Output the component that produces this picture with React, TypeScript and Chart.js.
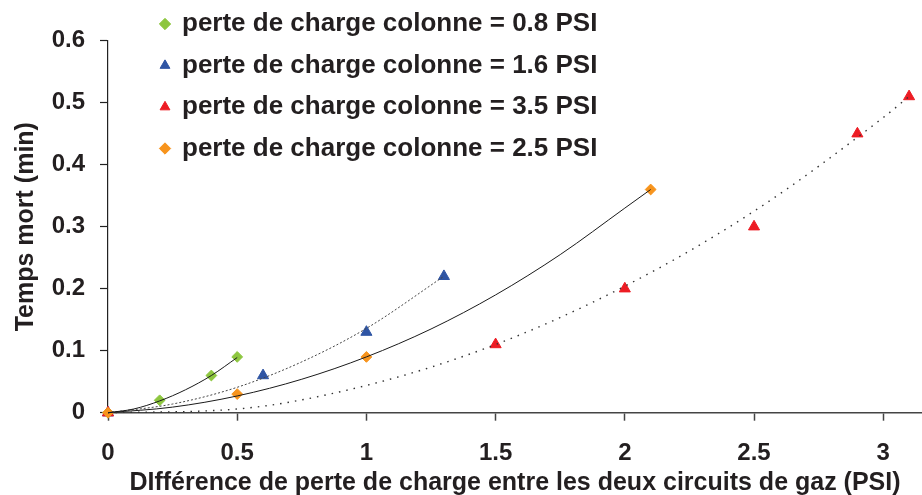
import React, { useEffect, useRef } from 'react';
import { Chart, registerables } from 'chart.js';

Chart.register(...registerables);

// ---- data ----
const legendLabels = [
  'perte de charge colonne = 0.8 PSI',
  'perte de charge colonne = 1.6 PSI',
  'perte de charge colonne = 3.5 PSI',
  'perte de charge colonne = 2.5 PSI',
];

const series08X = [0, 0.2, 0.4, 0.5];
const series08Y = [0, 0.02, 0.06, 0.09];

const series16X = [0, 0.6, 1.0, 1.3];
const series16Y = [0, 0.06, 0.13, 0.22];

const series35X = [0, 1.5, 2.0, 2.5, 2.9, 3.1];
const series35Y = [0, 0.11, 0.2, 0.3, 0.45, 0.51];

const series25X = [0, 0.5, 1.0, 2.1];
const series25Y = [0, 0.03, 0.09, 0.36];

// trend curves as they appear in the picture
const trend08X = [0, 0.1, 0.2, 0.3, 0.4, 0.5];
const trend08Y = [0, 0.006, 0.019, 0.037, 0.06, 0.089];

const trend16X = [0, 0.25, 0.5, 0.75, 1.0, 1.3];
const trend16Y = [0, 0.014, 0.041, 0.082, 0.136, 0.22];

const trend35X = [0, 0.5, 1.0, 1.5, 2.0, 2.5, 3.0, 3.1];
const trend35Y = [0, 0.006, 0.044, 0.11, 0.204, 0.325, 0.476, 0.51];

const trend25X = [0, 0.25, 0.5, 0.75, 1.0, 1.25, 1.5, 1.75, 2.0, 2.1];
const trend25Y = [0, 0.009, 0.027, 0.054, 0.09, 0.135, 0.19, 0.255, 0.33, 0.36];

const xTickValues = [0, 0.5, 1, 1.5, 2, 2.5, 3];
const xTickLabels = ['0', '0.5', '1', '1.5', '2', '2.5', '3'];
const yTickValues = [0, 0.1, 0.2, 0.3, 0.4, 0.5, 0.6];
const yTickLabels = ['0', '0.1', '0.2', '0.3', '0.4', '0.5', '0.6'];

const xTitle = 'DIfférence de perte de charge entre les deux circuits de gaz (PSI)';
const yTitle = 'Temps mort (min)';

const pts = (xs: number[], ys: number[]) => xs.map((x, i) => ({ x, y: ys[i] }));
const labelFor = (values: number[], labels: string[]) => (v: number) => {
  const i = values.findIndex((t) => Math.abs(t - v) < 1e-6);
  return i >= 0 ? labels[i] : '';
};

const FONT = "'Liberation Sans', Arial, Helvetica, sans-serif";
const TEXT = '#231f20';
const AXIS = '#444444';

const legendPlacer = {
  id: 'legendPlacer',
  afterLayout(chart: any) {
    const lg = chart.legend;
    if (!lg) return;
    lg.left = 145.5;
    lg.top = -4.5;
    lg.right = lg.left + lg.width;
    lg.bottom = lg.top + lg.height;
  },
};

export default function App() {
  const ref = useRef<HTMLCanvasElement | null>(null);

  useEffect(() => {
    if (!ref.current) return;
    const marker = (label: string, xs: number[], ys: number[], color: string, style: string, radius: number, order: number) => ({
      label,
      data: pts(xs, ys),
      showLine: false,
      pointStyle: style,
      pointRadius: radius,
      pointBackgroundColor: color,
      pointBorderColor: color,
      pointBorderWidth: 1,
      backgroundColor: color,
      borderColor: color,
      borderWidth: 1,
      clip: false,
      order,
      isMarker: true,
    });
    const trend = (xs: number[], ys: number[], dash: number[], width: number, color: string) => ({
      label: '',
      data: pts(xs, ys),
      showLine: true,
      pointRadius: 0,
      borderColor: color,
      borderWidth: width,
      borderDash: dash,
      cubicInterpolationMode: 'monotone',
      fill: false,
      clip: false,
      order: 0,
      isMarker: false,
    });

    const chart = new Chart(ref.current, {
      type: 'scatter',
      data: {
        datasets: [
          marker(legendLabels[0], series08X, series08Y, '#8dc63f', 'rectRot', 5.4, 4),
          marker(legendLabels[1], series16X, series16Y, '#2f55a4', 'triangle', 6.4, 3),
          marker(legendLabels[2], series35X, series35Y, '#ed1c24', 'triangle', 6.4, 2),
          marker(legendLabels[3], series25X, series25Y, '#f7941d', 'rectRot', 5.4, 1),
          trend(trend08X, trend08Y, [], 1, '#1a1a1a'),
          trend(trend16X, trend16Y, [2, 2], 1, '#444444'),
          trend(trend35X, trend35Y, [1.5, 6], 1.4, '#333333'),
          trend(trend25X, trend25Y, [], 1, '#1a1a1a'),
        ] as any,
      },
      options: {
        animation: false,
        responsive: false,
        devicePixelRatio: 1,
        layout: { autoPadding: false, padding: { top: 40.7, left: 0, right: 0, bottom: 0 } },
        plugins: {
          tooltip: { enabled: false },
          legend: {
            position: 'chartArea',
            align: 'start',
            labels: {
              usePointStyle: true,
              boxWidth: 8,
              boxHeight: 8,
              padding: 15.5,
              color: TEXT,
              font: { family: FONT, size: 26, weight: 'bold' },
              filter: (item: any, data: any) => data.datasets[item.datasetIndex].isMarker,
              sort: (a: any, b: any) => a.datasetIndex - b.datasetIndex,
            },
          },
        },
        scales: {
          x: {
            type: 'linear',
            min: 0,
            max: 3.15,
            afterFit: (scale: any) => {
              scale.height = 505 - 412.7;
            },
            ticks: {
              stepSize: 0.5,
              includeBounds: false,
              padding: 18,
              color: TEXT,
              font: { family: FONT, size: 24, weight: 'bold' },
              maxRotation: 0,
              callback: labelFor(xTickValues, xTickLabels),
            },
            grid: {
              drawOnChartArea: false,
              drawTicks: true,
              tickLength: 8,
              tickColor: AXIS,
              tickWidth: 1.5,
            },
            border: { display: true, color: AXIS, width: 1.5 },
            title: {
              display: true,
              text: xTitle,
              color: TEXT,
              font: { family: FONT, size: 25, weight: 'bold', lineHeight: 1 },
              padding: { top: 0, bottom: 9 },
            },
          },
          y: {
            type: 'linear',
            min: 0,
            max: 0.6,
            afterFit: (scale: any) => {
              scale.width = 108;
            },
            ticks: {
              stepSize: 0.1,
              padding: 15,
              color: TEXT,
              font: { family: FONT, size: 24, weight: 'bold' },
              callback: labelFor(yTickValues, yTickLabels),
            },
            grid: {
              drawOnChartArea: false,
              drawTicks: true,
              tickLength: 8,
              tickColor: '#222222',
              tickWidth: 1.2,
            },
            border: { display: true, color: '#222222', width: 1.2 },
            title: {
              display: true,
              text: yTitle,
              color: TEXT,
              font: { family: FONT, size: 25, weight: 'bold', lineHeight: 1 },
              padding: { top: 14, bottom: 0 },
            },
          },
        },
      } as any,
      plugins: [legendPlacer],
    });
    return () => chart.destroy();
  }, []);

  return (
    <div style={{ position: 'absolute', left: 0, top: 0, width: 922, height: 495, overflow: 'hidden', background: '#ffffff' }}>
      <canvas ref={ref} width={922} height={505} />
    </div>
  );
}
